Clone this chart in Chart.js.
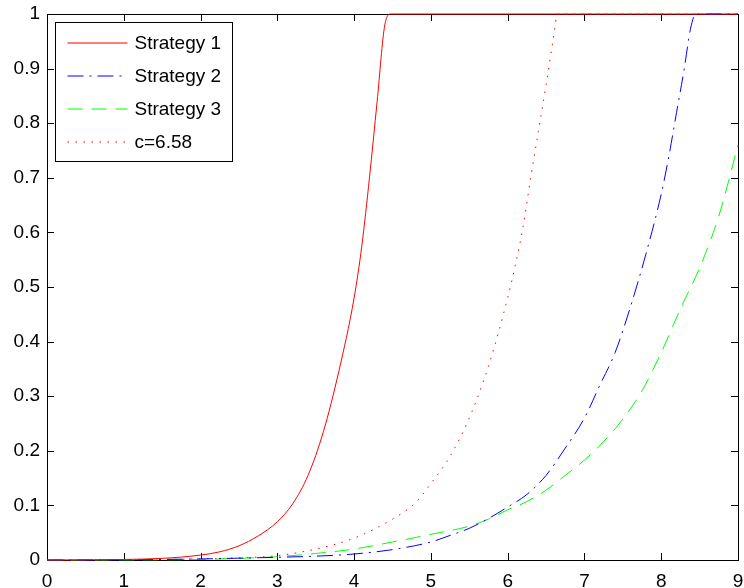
<!DOCTYPE html>
<html>
<head>
<meta charset="utf-8">
<script src="https://cdn.jsdelivr.net/npm/chart.js@4/dist/chart.umd.min.js"></script>
<style>
html,body{margin:0;padding:0;background:#fff;}
#wrap{width:744px;height:588px;}
</style>
</head>
<body>
<div id="wrap"><canvas id="c" width="744" height="588"></canvas></div>
<script>
// ---- data ----
const xTicks = [0,1,2,3,4,5,6,7,8,9];
const yTicks = [0,0.1,0.2,0.3,0.4,0.5,0.6,0.7,0.8,0.9,1];
const yTickLabels = ["0","0.1","0.2","0.3","0.4","0.5","0.6","0.7","0.8","0.9","1"];

const seriesNames = ["Strategy 1","Strategy 2","Strategy 3","c=6.58"];

const s1X = [0,0.5,1,1.5,2,2.25,2.5,2.75,3,3.2,3.4,3.6,3.8,4,4.1,4.2,4.3,4.4,4.48,6,9];
const s1Y = [0,0.0003,0.001,0.003,0.009,0.015,0.026,0.044,0.07,0.103,0.155,0.235,0.345,0.48,0.575,0.7,0.84,0.98,1,1,1];

const s2X = [0,1,2,3,3.5,4,4.5,5,5.25,5.5,5.75,6,6.25,6.5,6.75,7,7.2,7.4,7.6,7.8,8,8.1,8.2,8.3,8.38,8.45,9];
const s2Y = [0,0.0003,0.002,0.005,0.007,0.011,0.019,0.033,0.045,0.058,0.076,0.097,0.12,0.155,0.205,0.26,0.32,0.38,0.464,0.56,0.67,0.74,0.82,0.9,0.972,1,1];

const s3X = [0,1,2,2.5,3,3.5,4,4.5,5,5.5,5.75,6,6.25,6.5,6.75,7,7.25,7.5,7.75,8,8.25,8.5,8.75,9];
const s3Y = [0,0.0003,0.001,0.003,0.006,0.012,0.02,0.033,0.047,0.062,0.075,0.092,0.107,0.128,0.155,0.183,0.217,0.258,0.31,0.38,0.46,0.535,0.63,0.76];

const s4X = [0,1,2,2.5,3,3.5,4,4.5,4.8,5,5.25,5.5,5.75,6,6.1,6.2,6.3,6.4,6.5,6.6,6.65,9];
const s4Y = [0,0.0005,0.002,0.004,0.008,0.02,0.04,0.075,0.105,0.14,0.19,0.26,0.355,0.48,0.54,0.61,0.7,0.785,0.87,0.96,1,1];

// ---- build ----
function pts(xs, ys){ return xs.map((x,i)=>({x:x, y:ys[i]})); }
const FONT = '"Liberation Sans", Arial, Helvetica, sans-serif';

const styles = [
  {color:'#ff0000', dash:[]},
  {color:'#0000ff', dash:[16,6,2,6]},
  {color:'#00ff00', dash:[15,9]},
  {color:'#ff0000', dash:[1.5,6.5]}
];
const seriesData = [pts(s1X,s1Y), pts(s2X,s2Y), pts(s3X,s3Y), pts(s4X,s4Y)];

const datasets = seriesData.map((d,i)=>({
  label: seriesNames[i],
  data: d,
  borderColor: styles[i].color,
  borderWidth: 1,
  borderDash: styles[i].dash,
  pointRadius: 0,
  fill: false,
  cubicInterpolationMode: 'monotone',
  clip: false
}));

function noPad(s){ s.paddingLeft = 0; s.paddingRight = 0; s.paddingTop = 0; s.paddingBottom = 0; }

const frameTicks = {
  id: 'frameTicks',
  beforeDatasetsDraw(chart){
    const ctx = chart.ctx, a = chart.chartArea;
    const xs = chart.scales.x, ys = chart.scales.y;
    const L = 7;
    ctx.save();
    ctx.strokeStyle = '#000';
    ctx.lineWidth = 1;
    ctx.beginPath();
    xTicks.forEach(v=>{
      const p = Math.round(xs.getPixelForValue(v))+0.5;
      ctx.moveTo(p, a.bottom); ctx.lineTo(p, a.bottom-L);
      ctx.moveTo(p, a.top); ctx.lineTo(p, a.top+L);
    });
    yTicks.forEach(v=>{
      const p = Math.round(ys.getPixelForValue(v))+0.5;
      ctx.moveTo(a.left, p); ctx.lineTo(a.left+L, p);
      ctx.moveTo(a.right, p); ctx.lineTo(a.right-L, p);
    });
    ctx.stroke();
    ctx.strokeRect(Math.round(a.left)+0.5, Math.round(a.top)+0.5, Math.round(a.right-a.left), Math.round(a.bottom-a.top));
    ctx.restore();
  },
  afterDraw(chart){
    const ctx = chart.ctx, a = chart.chartArea;
    const bx = Math.round(a.left)+8.5, by = Math.round(a.top)+8.5, bw = 177, bh = 139;
    ctx.save();
    ctx.setLineDash([]);
    ctx.fillStyle = '#fff';
    ctx.fillRect(bx, by, bw, bh);
    ctx.strokeStyle = '#000';
    ctx.lineWidth = 1;
    ctx.strokeRect(bx, by, bw, bh);
    ctx.font = '19px ' + FONT;
    ctx.textBaseline = 'middle';
    ctx.textAlign = 'left';
    seriesNames.forEach((name,i)=>{
      const yy = Math.round(by + 20 + i*33);
      ctx.save();
      ctx.beginPath();
      ctx.lineWidth = 1.2;
      ctx.strokeStyle = styles[i].color;
      ctx.setLineDash(styles[i].dash);
      ctx.moveTo(bx+12, yy); ctx.lineTo(bx+72, yy);
      ctx.stroke();
      ctx.restore();
      ctx.fillStyle = '#000';
      ctx.fillText(name, bx+79, yy+1);
    });
    ctx.restore();
  }
};

new Chart(document.getElementById('c'), {
  type: 'line',
  data: { datasets },
  options: {
    responsive: false,
    animation: false,
    devicePixelRatio: 1,
    layout: { padding: { top: 14, right: 6, left: 0, bottom: 0 } },
    plugins: { legend: { display: false }, tooltip: { enabled: false } },
    scales: {
      x: {
        type: 'linear', min: 0, max: 9,
        afterBuildTicks(s){ s.ticks = xTicks.map(v=>({value:v})); },
        afterFit(s){ s.height = 28; noPad(s); },
        grid: { display: false, drawTicks: false },
        border: { display: false },
        ticks: { color:'#000', font:{ family: FONT, size: 19 }, padding: 10, maxRotation: 0, autoSkip: false,
                 callback: (v)=> String(v) }
      },
      y: {
        type: 'linear', min: 0, max: 1,
        afterBuildTicks(s){ s.ticks = yTicks.map(v=>({value:v})); },
        afterFit(s){ s.width = 47; noPad(s); },
        grid: { display: false, drawTicks: false },
        border: { display: false },
        ticks: { color:'#000', font:{ family: FONT, size: 19 }, padding: 7, autoSkip: false,
                 callback: (v)=> { const i = yTicks.findIndex(t=>Math.abs(t-v)<1e-9); return i>=0 ? yTickLabels[i] : ''; } }
      }
    }
  },
  plugins: [frameTicks]
});
</script>
</body>
</html>
